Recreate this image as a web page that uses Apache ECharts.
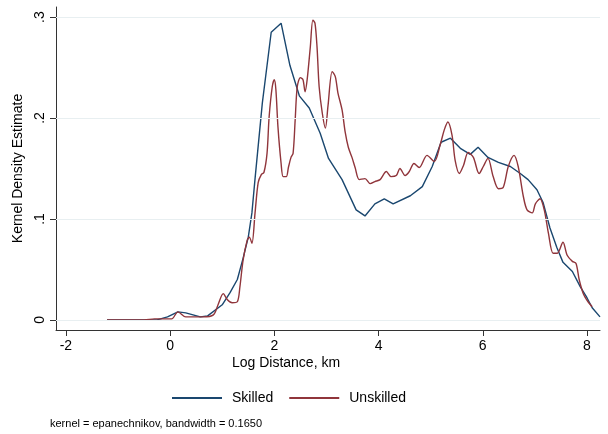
<!DOCTYPE html>
<html>
<head>
<meta charset="utf-8">
<script src="https://cdn.jsdelivr.net/npm/echarts@6/dist/echarts.min.js"></script>
<style>html,body{margin:0;padding:0;background:#fff}#c{width:608px;height:434px}</style>
</head>
<body>
<div id="c"></div>
<script>
var xTicks = [-2, 0, 2, 4, 6, 8];
var yTicks = [0, 0.1, 0.2, 0.3];
var seriesNames = ['Skilled', 'Unskilled'];
var skilled = [[-1.21,0],[-0.25,0],[-0.05,0.003],[0.15,0.008],[0.3,0.007],[0.58,0.003],[0.72,0.004],[1.0,0.015],[1.15,0.027],[1.29,0.04],[1.40,0.061],[1.50,0.082],[1.57,0.106],[1.63,0.14],[1.77,0.215],[1.94,0.285],[2.13,0.294],[2.30,0.252],[2.48,0.222],[2.67,0.21],[2.88,0.185],[3.04,0.160],[3.30,0.139],[3.57,0.109],[3.74,0.103],[3.93,0.115],[4.11,0.12],[4.28,0.115],[4.61,0.123],[4.84,0.132],[5.03,0.152],[5.20,0.176],[5.38,0.18],[5.57,0.170],[5.76,0.164],[5.91,0.171],[6.10,0.161],[6.30,0.156],[6.53,0.152],[6.72,0.145],[6.87,0.139],[7.04,0.129],[7.16,0.116],[7.29,0.091],[7.42,0.072],[7.54,0.057],[7.72,0.048],[7.87,0.033],[8.0,0.022],[8.1,0.012],[8.25,0.003]];
var unskilled = [[-1.21,0],[-0.5,0],[-0.3,0.001],[-0.1,0.001],[0.03,0.001],[0.15,0.008],[0.3,0.003],[0.45,0.003],[0.63,0.003],[0.83,0.005],[0.92,0.015],[1.02,0.026],[1.1,0.02],[1.19,0.017],[1.29,0.018],[1.34,0.033],[1.40,0.059],[1.48,0.079],[1.52,0.082],[1.57,0.076],[1.63,0.106],[1.69,0.136],[1.75,0.144],[1.80,0.146],[1.86,0.165],[1.90,0.201],[1.96,0.231],[2.0,0.238],[2.03,0.228],[2.07,0.191],[2.13,0.155],[2.17,0.142],[2.23,0.142],[2.27,0.151],[2.32,0.161],[2.36,0.165],[2.40,0.198],[2.44,0.231],[2.50,0.240],[2.55,0.238],[2.59,0.226],[2.63,0.238],[2.69,0.270],[2.74,0.297],[2.78,0.294],[2.82,0.270],[2.86,0.231],[2.92,0.205],[2.98,0.190],[3.03,0.212],[3.11,0.246],[3.17,0.241],[3.22,0.225],[3.30,0.208],[3.36,0.186],[3.42,0.171],[3.49,0.161],[3.55,0.151],[3.63,0.139],[3.74,0.140],[3.84,0.135],[3.93,0.137],[4.03,0.139],[4.15,0.147],[4.24,0.142],[4.34,0.143],[4.41,0.150],[4.51,0.143],[4.59,0.147],[4.68,0.155],[4.78,0.151],[4.93,0.163],[5.07,0.157],[5.18,0.173],[5.26,0.188],[5.33,0.196],[5.41,0.183],[5.47,0.158],[5.55,0.145],[5.63,0.153],[5.72,0.166],[5.82,0.161],[5.93,0.145],[6.01,0.152],[6.10,0.160],[6.20,0.142],[6.30,0.130],[6.39,0.131],[6.49,0.152],[6.60,0.163],[6.68,0.152],[6.78,0.122],[6.85,0.109],[6.95,0.106],[7.01,0.115],[7.10,0.120],[7.18,0.109],[7.26,0.086],[7.35,0.066],[7.43,0.066],[7.54,0.077],[7.62,0.064],[7.72,0.058],[7.79,0.056],[7.85,0.040],[7.93,0.026],[8.02,0.018],[8.10,0.013]];
var colors = ['#1a476f', '#90353b'];
var font = 'Liberation Sans, Arial, sans-serif';

var chart = echarts.init(document.getElementById('c'));
chart.setOption({
  animation: false,
  backgroundColor: '#fff',
  grid: {left: 56, right: 8, top: 7, bottom: 104},
  xAxis: {
    type: 'value', min: -2.19, max: 8.25,
    axisLine: {show: true, onZero: false, lineStyle: {color: '#333', width: 1}},
    axisTick: {show: true, length: 6, customValues: xTicks, lineStyle: {color: '#333'}},
    axisLabel: {customValues: xTicks, color: '#000', fontSize: 14, fontFamily: font, margin: 9},
    splitLine: {show: false}
  },
  yAxis: {
    type: 'value', min: -0.01, max: 0.31,
    name: 'Kernel Density Estimate', nameLocation: 'middle', nameGap: 31,
    nameTextStyle: {color: '#000', fontSize: 14, fontFamily: font},
    axisLine: {show: true, onZero: false, lineStyle: {color: '#333', width: 1}},
    axisTick: {show: true, length: 6, customValues: yTicks, lineStyle: {color: '#333'}},
    axisLabel: {customValues: yTicks, rotate: 90, color: '#000', fontSize: 14, fontFamily: font, margin: 9,
      formatter: function (v) { return v === 0 ? '0' : String(+v.toFixed(1)).replace(/^0/, ''); }},
    splitLine: {show: false}
  },
  legend: {
    data: seriesNames, left: 167, top: 386, icon: 'rect', itemWidth: 50, itemHeight: 2, itemGap: 16,
    textStyle: {color: '#000', fontSize: 14, fontFamily: font, padding: [0, 0, 0, 5]}
  },
  graphic: [
    {type: 'text', left: 50, top: 418, style: {text: 'kernel = epanechnikov, bandwidth = 0.1650', fill: '#000', font: '11px ' + font}},
    {type: 'text', x: 286, y: 356, style: {text: 'Log Distance, km', fill: '#000', font: '14px ' + font, textAlign: 'center'}}
  ],
  series: [
    {type: 'line', name: 'grid', data: [], z: 1, silent: true,
      markLine: {silent: true, symbol: 'none', label: {show: false}, animation: false,
        lineStyle: {color: '#e8eff1', type: 'solid', width: 1},
        data: yTicks.map(function (v) { return {yAxis: v}; })}},
    {type: 'line', name: seriesNames[0], data: skilled, showSymbol: false, symbol: 'none', z: 3,
      lineStyle: {color: colors[0], width: 1.4}, itemStyle: {color: colors[0]}},
    {type: 'line', name: seriesNames[1], data: unskilled, showSymbol: false, symbol: 'none', z: 4, smooth: 0.3,
      lineStyle: {color: colors[1], width: 1.4}, itemStyle: {color: colors[1]}}
  ]
});
</script>
</body>
</html>
